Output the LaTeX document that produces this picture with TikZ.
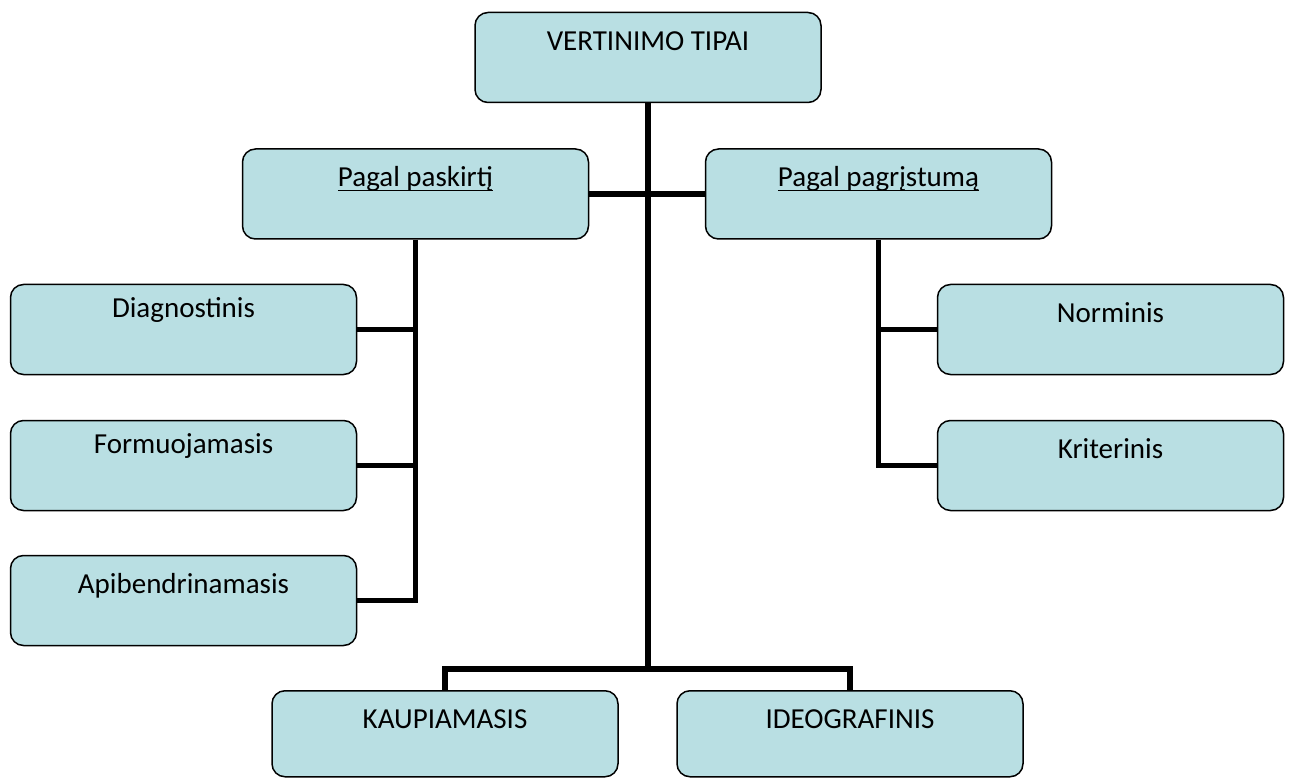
\documentclass[tikz,border=0pt]{standalone}
\usepackage{fontspec}
\setmainfont{Carlito}
\definecolor{boxfill}{RGB}{185,223,227}
\newlength{\du}
\setlength{\du}{1pt}
\newcommand{\ulword}[1]{\sbox0{#1}\rlap{\rule[-4\du]{\wd0}{1.4\du}}\usebox0}

\tikzset{
  typebox/.style={draw=black, fill=boxfill, line width=1.5\du, rounded corners=13\du,
    minimum width=346\du, inner xsep=0pt, inner ysep=0pt,
    text height=38\du, text depth=52\du, font=\fontsize{29}{35}\selectfont},
  sidebox/.style={typebox, text height=33\du, text depth=57\du},
  lowbox/.style={typebox, text depth=48\du},
  joint/.style={draw=black, line width=5.5\du, line join=miter}
}

\begin{document}
\begin{tikzpicture}[x=\du, y=-\du]
\useasboundingbox (0,0) rectangle (1294,778);

% boxes
\node[typebox] (tipai) at (648,57.5) {VERTINIMO TIPAI};
\node[typebox] (paskirtis) at (415.5,194) {\ulword{Pagal paskirtį}};
\node[typebox] (pagristumas) at (878.5,194) {\ulword{Pagal pagrįstumą}};
\node[sidebox] (diagn) at (183.5,329.5) {Diagnostinis};
\node[sidebox] (formuoj) at (183.5,465.5) {Formuojamasis};
\node[typebox] (apibendr) at (183.5,600.5) {Apibendrinamasis};
\node[typebox] (norm) at (1110.5,329.5) {Norminis};
\node[typebox] (krit) at (1110.5,465.5) {Kriterinis};
\node[lowbox] (kaup) at (445,733.75) {KAUPIAMASIS};
\node[lowbox] (ideogr) at (850,733.75) {IDEOGRAFINIS};
\coordinate (bus) at (648,669);

% connectors
\draw[joint] (tipai.south) -- (bus);
\draw[joint] (kaup.north) |- (bus) -| (ideogr.north);
\draw[joint] (paskirtis.east) -- (pagristumas.west);
\draw[joint] (paskirtis.south) |- (apibendr.east);
\draw[joint] (diagn.east) -- (diagn.east -| paskirtis.south);
\draw[joint] (formuoj.east) -- (formuoj.east -| paskirtis.south);
\draw[joint] (pagristumas.south) |- (krit.west);
\draw[joint] (norm.west) -- (norm.west -| pagristumas.south);
\end{tikzpicture}
\end{document}
